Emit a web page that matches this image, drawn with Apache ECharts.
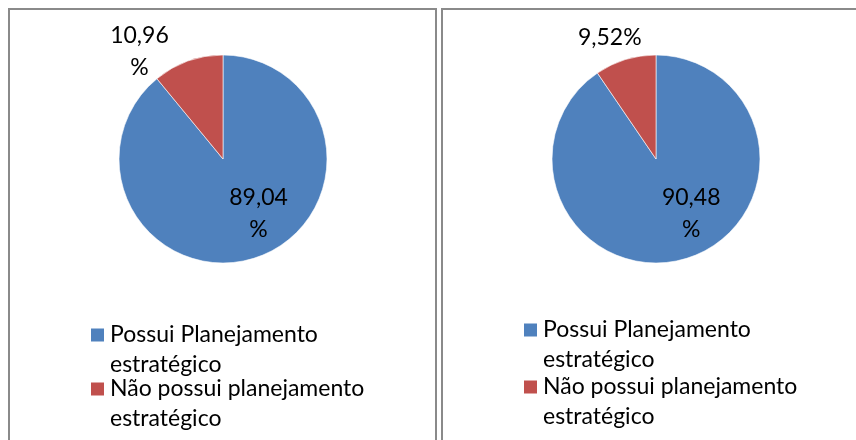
<!DOCTYPE html>
<html>
<head>
<meta charset="utf-8">
<script src="https://cdn.jsdelivr.net/npm/echarts@6/dist/echarts.min.js"></script>
<style>
  html, body { margin: 0; padding: 0; background: #fff; }
  #chart { width: 856px; height: 440px; }
</style>
</head>
<body>
<div id="chart"></div>
<script>
// categorias e valores (%) de cada gráfico
const categories = ['Possui Planejamento estratégico', 'Não possui planejamento estratégico']
const valuesLeft = [89.04, 10.96]
const valuesRight = [90.48, 9.52]

const colors = ['#4F81BD', '#C0504D']
const font = 'Lato, "Open Sans", sans-serif'

// deslocamento dos rótulos em relação à posição 'inside'
const offsetsLeft = [[17, 3], [-65, -56]]
const offsetsRight = [[19, 2], [-30, -69]]

function fmtLabel (p) {
  const s = p.value.toFixed(2).replace('.', ',')
  // o Excel quebrou o % para a linha de baixo quando o número era longo
  return s.length > 4 ? s + '\n%' : s + '%'
}

function pieSeries (values, center, offsets) {
  return {
    type: 'pie',
    center: center,
    radius: 104,
    startAngle: 90,
    clockwise: true,
    animation: false,
    silent: true,
    data: values.map((v, i) => ({ name: categories[i], value: v })),
    itemStyle: { borderColor: '#fff', borderWidth: 0.6 },
    label: {
      show: true,
      position: 'inside',
      formatter: fmtLabel,
      color: '#000',
      fontFamily: font,
      fontSize: 23,
      lineHeight: 32
    },
    labelLine: { show: false },
    labelLayout: function (params) {
      const o = offsets[params.dataIndex]
      return { dx: o[0], dy: o[1] }
    }
  }
}

function legendItem (name, left, top) {
  return {
    data: [name],
    orient: 'vertical',
    left: left,
    top: top,
    padding: 0,
    itemWidth: 15,
    itemHeight: 15,
    itemGap: 0,
    icon: 'rect',
    selectedMode: false,
    // linha vazia no topo: assim a 1a linha do texto fica alinhada ao quadrado
    formatter: function (n) {
      const i = n.lastIndexOf(' ')
      return ' \n' + n.slice(0, i) + '\n' + n.slice(i + 1)
    },
    textStyle: {
      color: '#000',
      fontFamily: font,
      fontSize: 23,
      lineHeight: 30
    }
  }
}

const option = {
  backgroundColor: '#fff',
  color: colors,
  legend: [
    legendItem(categories[0], 89, 290),
    legendItem(categories[1], 89, 344),
    legendItem(categories[0], 522, 285),
    legendItem(categories[1], 522, 342)
  ],
  series: [
    pieSeries(valuesLeft, [223, 159], offsetsLeft),
    pieSeries(valuesRight, [656, 159], offsetsRight)
  ],
  graphic: [
    {
      type: 'rect',
      shape: { x: 9, y: 9, width: 427, height: 460 },
      style: { fill: null, stroke: '#8a8a8a', lineWidth: 2 },
      silent: true
    },
    {
      type: 'rect',
      shape: { x: 442, y: 9, width: 460, height: 460 },
      style: { fill: null, stroke: '#8a8a8a', lineWidth: 2 },
      silent: true
    }
  ]
}

const myChart = echarts.init(document.getElementById('chart'))
myChart.setOption(option)
</script>
</body>
</html>
